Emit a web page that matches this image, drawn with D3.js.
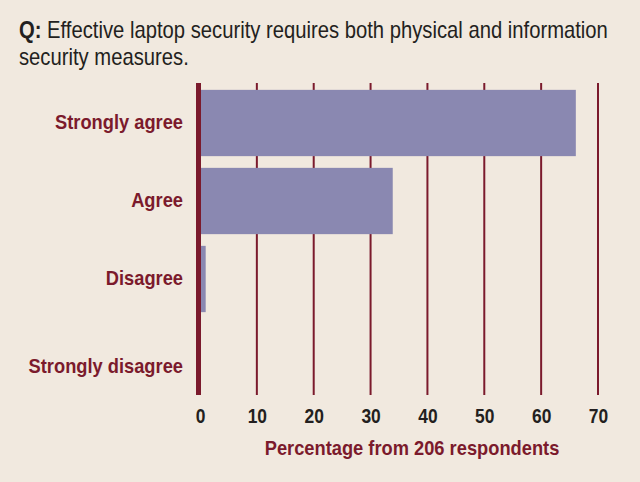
<!DOCTYPE html>
<html>
<head>
<meta charset="utf-8">
<script src="https://cdn.jsdelivr.net/npm/d3@7"></script>
<style>
	body { margin: 0; background: #f1e9df; }
	svg { display: block; }
	text { font-family: "Liberation Sans", Arial, sans-serif; }
</style>
</head>
<body>
<svg id="visual" width="640" height="482"></svg>
<script>
// chart data
var categories = ["Strongly agree", "Agree", "Disagree", "Strongly disagree"];
var percents = [66.1, 33.9, 1.0, 0];
var tickValues = [0, 10, 20, 30, 40, 50, 60, 70];

var darkRed = "#7b1a2c";
var barColor = "#8a88b1";

// squeeze text horizontally to mimic a condensed face
function condense(sel, f) {
	sel.each(function() {
		var len = this.getComputedTextLength();
		d3.select(this)
			.attr("textLength", len * f)
			.attr("lengthAdjust", "spacingAndGlyphs");
	});
}

var svg = d3.select("#visual");
svg.append("rect").attr("width", 640).attr("height", 482).attr("fill", "#f1e9df");

// title, drawn in a group that is scaled in x
var titleG = svg.append("g");
var title1 = titleG.append("text")
	.attr("x", 0)
	.attr("y", 38)
	.style("font-size", "23px")
	.style("fill", "#231f20");
title1.append("tspan").style("font-weight", "bold").text("Q:");
title1.append("tspan").text(" Effective laptop security requires both physical and information");
titleG.append("text")
	.attr("x", 0)
	.attr("y", 65)
	.style("font-size", "23px")
	.style("fill", "#231f20")
	.text("security measures.");
var tf = 589 / title1.node().getComputedTextLength();
titleG.attr("transform", "translate(19,0) scale(" + tf + ",1)");

var x = d3.scaleLinear()
	.domain([0, 70])
	.range([200, 598]);
var y = d3.scaleBand()
	.domain(categories)
	.range([84, 396])
	.paddingInner(0.15)
	.paddingOuter(0.075);

// vertical grid lines
svg.append("g")
	.selectAll("line")
	.data(tickValues.slice(1))
	.enter()
	.append("line")
	.attr("x1", function(d) { return x(d); })
	.attr("x2", function(d) { return x(d); })
	.attr("y1", 83)
	.attr("y2", 395)
	.attr("stroke", darkRed)
	.attr("stroke-width", 2);

// bars
svg.append("g")
	.selectAll("rect")
	.data(percents)
	.enter()
	.append("rect")
	.attr("x", x(0))
	.attr("y", function(d, i) { return y(categories[i]); })
	.attr("width", function(d) { return x(d) - x(0); })
	.attr("height", y.bandwidth())
	.attr("fill", barColor);

// zero axis line
svg.append("line")
	.attr("x1", x(0) - 1.5)
	.attr("x2", x(0) - 1.5)
	.attr("y1", 83)
	.attr("y2", 395)
	.attr("stroke", darkRed)
	.attr("stroke-width", 5);

// category labels
var labels = svg.append("g")
	.selectAll("text")
	.data(categories)
	.enter()
	.append("text")
	.attr("x", 183)
	.attr("y", function(d, i) { return y(d) + y.bandwidth() / 2 + (i == 3 ? 16 : 6); })
	.attr("text-anchor", "end")
	.style("font-size", "21px")
	.style("font-weight", "bold")
	.style("fill", darkRed)
	.text(function(d) { return d; });
var bf = 128 / labels.nodes()[0].getComputedTextLength();
condense(labels, bf);

// x axis
var xAxis = svg.append("g")
	.attr("transform", "translate(0,395)")
	.call(d3.axisBottom(x).tickValues(tickValues).tickSize(0).tickPadding(14));
xAxis.select(".domain").remove();
xAxis.selectAll("text")
	.style("font-family", "'Liberation Sans', Arial, sans-serif")
	.style("font-size", "20px")
	.style("font-weight", "bold")
	.style("fill", "#231f20");
condense(xAxis.selectAll("text"), bf);

var axisTitle = svg.append("text")
	.attr("x", 412)
	.attr("y", 455)
	.attr("text-anchor", "middle")
	.style("font-size", "21px")
	.style("font-weight", "bold")
	.style("fill", darkRed)
	.text("Percentage from 206 respondents");
condense(axisTitle, bf);
</script>
</body>
</html>
